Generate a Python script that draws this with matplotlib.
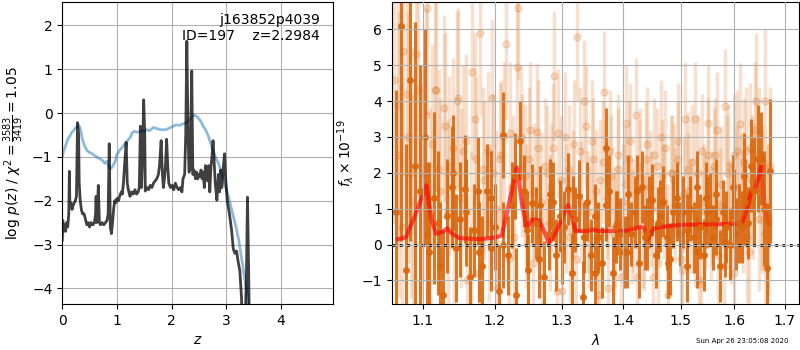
import matplotlib
matplotlib.use("Agg")
import matplotlib.pyplot as plt
from matplotlib.ticker import ScalarFormatter, NullFormatter, NullLocator

# p(z) panel
pz_z = [0.00, 0.01, 0.02, 0.04, 0.06, 0.08, 0.10, 0.12, 0.13, 0.14, 0.16, 0.18, 0.20, 0.22, 0.24, 0.26,
        0.28, 0.30, 0.31, 0.33, 0.35, 0.37, 0.40, 0.42, 0.45, 0.48, 0.50, 0.53, 0.56, 0.59, 0.61, 0.62,
        0.63, 0.65, 0.66, 0.68, 0.70, 0.73, 0.76, 0.79, 0.82, 0.84, 0.86, 0.88, 0.90, 0.92, 0.94, 0.96,
        0.98, 1.00, 1.03, 1.05, 1.08, 1.10, 1.12, 1.14, 1.17, 1.19, 1.21, 1.24, 1.27, 1.30, 1.33, 1.36,
        1.39, 1.41, 1.43, 1.45, 1.47, 1.49, 1.51, 1.52, 1.55, 1.58, 1.61, 1.64, 1.67, 1.70, 1.73, 1.76,
        1.78, 1.81, 1.83, 1.85, 1.87, 1.89, 1.91, 1.93, 1.95, 1.98, 2.01, 2.04, 2.07, 2.10, 2.13, 2.16,
        2.19, 2.21, 2.24, 2.26, 2.28, 2.30, 2.32, 2.34, 2.37, 2.39, 2.41, 2.44, 2.46, 2.48, 2.50, 2.52,
        2.54, 2.56, 2.58, 2.60, 2.62, 2.64, 2.66, 2.68, 2.70, 2.72, 2.74, 2.76, 2.78, 2.80, 2.83, 2.86,
        2.88, 2.90, 2.92, 2.95, 2.97, 2.99, 3.02, 3.06, 3.10, 3.13, 3.16, 3.19, 3.22, 3.25, 3.28, 3.30,
        3.34, 3.37, 3.39, 3.41, 3.43, 3.50, 3.60, 4.00]
pz_logp = [-2.9, -2.45, -2.7, -2.55, -2.7, -2.5, -2.6, -2.3, -1.33, -2.1, -2.05, -2.2, -2.1, -2.05, -2.0, -1.9,
           -0.22, -0.5, -1.6, -2.0, -2.2, -2.3, -2.3, -2.4, -2.55, -2.5, -2.6, -2.5, -2.55, -2.5, -2.3, -1.9,
           -2.5, -2.0, -1.65, -2.5, -2.55, -2.5, -2.55, -2.5, -2.45, -2.3, -0.7, -2.6, -2.75, -2.5, -2.2, -2.0,
           -2.05, -1.95, -2.0, -1.9, -1.8, -1.85, -1.6, -1.2, -0.67, -1.6, -1.75, -1.9, -1.8, -1.85, -1.75, -1.85,
           -1.8, -1.7, -0.3, -1.7, -1.0, 0.3, -0.5, -1.78, -1.7, -1.75, -1.65, -1.7, -1.6, -1.55, -1.5, -1.4,
           -1.2, -0.63, -1.3, -1.7, -1.5, -1.2, -0.6, -1.2, -1.6, -1.7, -1.65, -1.75, -1.6, -1.7, -1.75, -1.7,
           -1.8, -1.5, -1.4, -0.5, 1.64, -0.3, -1.35, -1.3, 0.96, -1.4, -1.3, -1.5, -1.35, -1.5, -1.4, -1.45,
           -1.3, -1.5, -1.35, -1.7, -1.2, -1.4, -1.55, -1.2, -1.8, -1.25, -1.0, -0.63, -1.1, -1.6, -1.99, -1.4,
           -1.8, -1.3, -1.7, -1.2, -0.93, -1.5, -2.0, -2.3, -2.68, -3.1, -3.2, -3.15, -3.4, -3.6, -4.2, -5.0,
           -5.0, -3.8, -1.92, -3.5, -5.5, -8.0, -9.0, -10.0]

chi_z = [0.00, 0.03, 0.06, 0.10, 0.13, 0.17, 0.22, 0.26, 0.30, 0.33, 0.37, 0.41, 0.45, 0.50, 0.55, 0.60,
         0.65, 0.70, 0.75, 0.78, 0.82, 0.86, 0.89, 0.93, 0.97, 1.00, 1.05, 1.10, 1.15, 1.20, 1.25, 1.28,
         1.32, 1.38, 1.45, 1.50, 1.55, 1.60, 1.67, 1.72, 1.80, 1.90, 2.00, 2.08, 2.15, 2.20, 2.27, 2.33,
         2.38, 2.43, 2.48, 2.53, 2.58, 2.63, 2.68, 2.73, 2.80, 2.86, 2.92, 2.98, 3.03, 3.08, 3.13, 3.18,
         3.23, 3.28, 3.33, 3.38, 3.43, 3.50]
chi_val = [-1.0, -0.85, -0.75, -0.6, -0.55, -0.45, -0.38, -0.32, -0.28, -0.35, -0.6, -0.75, -0.85, -0.9, -0.93, -0.98,
           -1.02, -1.05, -1.1, -1.15, -1.1, -1.25, -1.27, -1.2, -1.1, -0.95, -0.85, -0.78, -0.7, -0.62, -0.55, -0.45,
           -0.42, -0.44, -0.4, -0.42, -0.38, -0.4, -0.33, -0.35, -0.38, -0.38, -0.32, -0.27, -0.28, -0.25, -0.22, -0.15,
           -0.08, -0.05, -0.1, -0.18, -0.3, -0.4, -0.55, -0.75, -1.0, -1.15, -1.4, -1.65, -1.85, -2.1, -2.35, -2.6,
           -2.9, -3.3, -3.7, -4.1, -4.6, -5.5]

# spectrum panel: first orient (solid)
dark_wave = [1.066, 1.072, 1.078, 1.084, 1.090, 1.097, 1.103, 1.109, 1.115, 1.121,
             1.127, 1.133, 1.139, 1.145, 1.151, 1.158, 1.164, 1.170, 1.176, 1.182,
             1.188, 1.194, 1.200, 1.206, 1.212, 1.219, 1.225, 1.231, 1.237, 1.243,
             1.249, 1.255, 1.261, 1.267, 1.273, 1.280, 1.286, 1.292, 1.298, 1.304,
             1.310, 1.316, 1.322, 1.328, 1.334, 1.341, 1.347, 1.353, 1.359, 1.365,
             1.371, 1.377, 1.383, 1.389, 1.395, 1.402, 1.408, 1.414, 1.420, 1.426,
             1.432, 1.438, 1.444, 1.450, 1.456, 1.463, 1.469, 1.475, 1.481, 1.487,
             1.493, 1.499, 1.505, 1.511, 1.517, 1.524, 1.530, 1.536, 1.542, 1.548,
             1.554, 1.560, 1.566, 1.572, 1.578, 1.585, 1.591, 1.597, 1.603, 1.609,
             1.615, 1.621, 1.627, 1.633, 1.639, 1.646, 1.652, 1.658, 1.664, 1.670,
             1.106, 1.124, 1.141, 1.159, 1.177, 1.194, 1.212, 1.229, 1.247, 1.265,
             1.282, 1.300, 1.318, 1.335, 1.353, 1.371, 1.388, 1.406, 1.424, 1.441,
             1.459, 1.477, 1.494, 1.512, 1.530, 1.547, 1.565, 1.583, 1.600, 1.618]
dark_flux = [0.9, 6.1, -0.7, 4.6, 2.2, 1.5, 3.0, -0.2, 1.3, 0.6,
             -1.4, 0.8, 1.6, -0.1, 0.7, 1.55, -0.9, 0.4, 1.5, -0.6,
             1.5, -0.1, 0.5, -1.3, 3.05, -0.3, 1.1, -1.4, 2.9, 1.5,
             -0.7, 1.15, 0.6, 1.1, -0.9, 0.3, 1.2, -0.3, 0.8, 0.5,
             1.55, -0.8, 0.7, 1.35, -1.45, 1.2, -0.3, 0.8, 0.2, -0.5,
             2.7, 1.5, -0.8, 0.6, 0.3, -0.2, 1.4, 0.3, 0.9, -0.5,
             1.6, 0.2, 0.9, 1.25, -0.3, 0.8, 1.2, 0.2, -0.4, 0.9,
             1.3, 0.3, 0.9, -0.6, 1.0, 0.2, 1.6, 0.5, -0.3, 0.9,
             1.0, 0.2, 1.4, -0.6, 0.9, 0.5, 0.0, 1.6, 0.3, 0.6,
             0.5, 1.2, 0.6, 2.2, 1.5, 2.4, 2.4, 1.0, -0.65, 2.05,
             0.3, -0.6, 2.0, 0.9, -0.2, 1.3, 0.0, 1.9, 0.4, -0.4,
             1.4, -0.1, 0.9, 0.2, -0.8, 1.1, 0.5, -0.2, 1.5, 0.3,
             0.6, -0.5, 1.1, 0.4, -0.2, 1.3, 0.7, 0.1, 1.0, 1.9]
dark_err = [3.4, 6.0, 3.5, 4.5, 4.0, 3.5, 3.0, 2.5, 2.4, 2.0,
            1.8, 1.6, 1.7, 1.5, 1.6, 1.5, 1.4, 1.3, 1.5, 1.4,
            1.3, 1.2, 1.2, 1.3, 1.2, 1.1, 1.2, 1.3, 1.1, 1.0,
            1.0, 1.1, 1.0, 1.1, 1.0, 1.0, 1.1, 1.0, 1.0, 1.0,
            1.0, 1.1, 0.9, 1.0, 1.0, 1.1, 1.0, 0.9, 1.0, 1.0,
            1.1, 1.0, 1.0, 0.9, 1.0, 1.0, 1.1, 0.9, 1.0, 1.0,
            1.0, 0.9, 1.0, 1.0, 0.9, 1.0, 1.0, 0.9, 1.0, 1.0,
            1.0, 0.9, 1.0, 1.0, 0.9, 1.0, 1.0, 0.9, 1.0, 1.0,
            1.0, 0.9, 1.0, 1.0, 0.9, 1.0, 1.0, 0.9, 1.0, 1.1,
            1.0, 1.2, 1.0, 1.3, 1.5, 1.5, 1.3, 1.6, 1.8, 2.0,
            2.0, 1.8, 1.6, 1.5, 1.4, 1.3, 1.2, 1.2, 1.1, 1.1,
            1.0, 1.0, 1.0, 1.0, 1.0, 1.0, 1.0, 1.0, 1.0, 1.0,
            1.0, 1.0, 1.0, 1.0, 1.0, 1.0, 1.0, 1.0, 1.1, 1.2]

# second orient (faint)
light_wave = [1.063, 1.069, 1.075, 1.081, 1.087, 1.094, 1.100, 1.106, 1.112, 1.118,
              1.124, 1.130, 1.136, 1.142, 1.148, 1.155, 1.161, 1.167, 1.173, 1.179,
              1.185, 1.191, 1.197, 1.203, 1.209, 1.216, 1.222, 1.228, 1.234, 1.240,
              1.246, 1.252, 1.258, 1.264, 1.270, 1.277, 1.283, 1.289, 1.295, 1.301,
              1.307, 1.313, 1.319, 1.325, 1.331, 1.338, 1.344, 1.350, 1.356, 1.362,
              1.368, 1.374, 1.380, 1.386, 1.392, 1.399, 1.405, 1.411, 1.417, 1.423,
              1.429, 1.435, 1.441, 1.447, 1.453, 1.460, 1.466, 1.472, 1.478, 1.484,
              1.490, 1.496, 1.502, 1.508, 1.514, 1.521, 1.527, 1.533, 1.539, 1.545,
              1.551, 1.557, 1.563, 1.569, 1.575, 1.582, 1.588, 1.594, 1.600, 1.606,
              1.612, 1.618, 1.624, 1.630, 1.636, 1.643, 1.649, 1.655, 1.661, 1.667]
light_flux = [4.6, 2.5, 5.4, 3.0, 1.2, 4.3, 2.0, 6.6, 2.8, 4.3,
              1.5, 3.3, 2.2, 0.5, 4.1, 2.6, -1.0, 4.8, 2.4, 5.9,
              1.8, 0.6, 2.0, -1.2, 2.5, 5.6, 3.1, 0.2, 6.6, 2.2,
              0.8, 3.2, 1.5, 2.7, -0.9, 2.0, 1.6, 4.7, 3.1, -1.3,
              1.0, 0.2, 2.8, 5.8, 1.2, 3.3, 0.5, 2.4, -0.6, 1.8,
              4.25, -1.2, 1.9, 0.5, 2.5, 1.2, 3.4, 2.9, 0.8, -0.9,
              2.2, 0.3, 2.8, 1.0, 2.5, -0.5, 1.9, 2.7, -1.4, 2.0,
              1.1, 2.4, -0.7, 3.5, 1.5, 2.3, 0.4, -1.0, 2.6, 0.9,
              3.4, 1.0, 2.5, -0.3, 1.7, 3.85, 2.2, 0.6, -0.8, 2.6,
              1.4, 2.3, 0.2, 2.7, 1.5, 4.0, 0.7, 1.2, 0.3, 0.6]
light_err = [4.0, 4.0, 3.5, 3.5, 3.0, 3.0, 3.0, 3.0, 2.8, 2.8,
             2.6, 2.6, 2.5, 2.5, 2.5, 2.4, 2.4, 2.4, 2.3, 2.3,
             2.2, 2.2, 2.2, 2.1, 2.1, 2.1, 2.0, 2.0, 2.0, 2.0,
             2.0, 1.9, 1.9, 1.9, 1.9, 1.9, 1.8, 1.8, 1.8, 1.8,
             1.8, 1.8, 1.8, 1.8, 1.7, 1.7, 1.7, 1.7, 1.7, 1.7,
             1.7, 1.7, 1.7, 1.7, 1.7, 1.6, 1.6, 1.6, 1.6, 1.6,
             1.6, 1.6, 1.6, 1.6, 1.6, 1.6, 1.6, 1.6, 1.6, 1.6,
             1.6, 1.6, 1.6, 1.6, 1.6, 1.6, 1.6, 1.6, 1.6, 1.6,
             1.6, 1.6, 1.6, 1.6, 1.6, 1.6, 1.7, 1.7, 1.7, 1.7,
             1.7, 1.8, 1.8, 1.8, 1.9, 1.9, 2.0, 2.0, 2.1, 2.2]
light2_wave = [1.0675, 1.0735, 1.0795, 1.0855, 1.0915, 1.0985, 1.1045, 1.1105, 1.1165, 1.1225,
               1.1285, 1.1345, 1.1405, 1.1465, 1.1525, 1.1595, 1.1655, 1.1715, 1.1775, 1.1835,
               1.1895, 1.1955, 1.2015, 1.2075, 1.2135, 1.2205, 1.2265, 1.2325, 1.2385, 1.2445,
               1.2505, 1.2565, 1.2625, 1.2685, 1.2745, 1.2815, 1.2875, 1.2935, 1.2995, 1.3055,
               1.3115, 1.3175, 1.3235, 1.3295, 1.3355, 1.3425, 1.3485, 1.3545, 1.3605, 1.3665,
               1.3725, 1.3785, 1.3845, 1.3905, 1.3965, 1.4035, 1.4095, 1.4155, 1.4215, 1.4275,
               1.4335, 1.4395, 1.4455, 1.4515, 1.4575, 1.4645, 1.4705, 1.4765, 1.4825, 1.4885,
               1.4945, 1.5005, 1.5065, 1.5125, 1.5185, 1.5255, 1.5315, 1.5375, 1.5435, 1.5495,
               1.5555, 1.5615, 1.5675, 1.5735, 1.5795, 1.5865, 1.5925, 1.5985, 1.6045, 1.6105,
               1.6165, 1.6225, 1.6285, 1.6345, 1.6405, 1.6475, 1.6535, 1.6595, 1.6655, 1.6700]
light2_flux = [3.9, 0.5, 4.2, 2.0, 5.3, 1.5, 3.6, 0.8, 4.3, 2.1,
               3.8, 0.9, 2.7, 4.0, 1.3, 2.9, 0.2, 3.5, -0.8, 2.1,
               2.6, 4.1, 1.0, 2.4, 3.0, -0.4, 1.6, 4.95, 3.0, 1.9,
               2.4, -0.5, 3.15, 1.2, 2.2, 0.6, 2.7, -1.3, 1.8, 3.0,
               2.1, 1.4, -0.4, 2.6, 4.0, 0.9, 2.9, 1.5, -1.4, 2.3,
               1.3, 2.6, 0.3, 2.1, -0.9, 1.7, 2.4, 0.5, 3.6, 1.9,
               0.4, 2.4, 1.6, -0.9, 2.2, 3.0, 1.2, 0.1, 2.0, 1.8,
               2.9, -0.4, 1.4, 2.1, 0.8, 3.5, 2.0, -1.1, 1.2, 2.5,
               0.6, 2.2, 3.2, 1.1, -0.6, 2.0, 0.7, 2.5, 1.6, 3.35,
               0.9, 2.6, -0.2, 1.8, 3.2, 2.5, 1.3, 4.0, 0.7, 2.2]

model_wave = [1.068, 1.078, 1.090, 1.097, 1.105, 1.112, 1.118, 1.126, 1.133, 1.140, 1.150,
              1.180, 1.200, 1.210, 1.220, 1.232, 1.240, 1.247, 1.255, 1.265, 1.270, 1.280,
              1.290, 1.300, 1.310, 1.316, 1.322, 1.340, 1.350, 1.360, 1.400, 1.410, 1.430,
              1.436, 1.442, 1.452, 1.470, 1.500, 1.600, 1.615, 1.625, 1.632, 1.640, 1.652]
model_flux = [0.15, 0.2, 0.8, 1.2, 1.65, 0.7, 0.3, 0.35, 0.45, 0.3, 0.18,
              0.15, 0.2, 0.25, 1.1, 2.15, 1.1, 0.45, 0.7, 0.68, 0.5, 0.05,
              0.3, 0.7, 1.1, 0.8, 0.38, 0.38, 0.42, 0.38, 0.38, 0.4, 0.5,
              0.45, 0.15, 0.45, 0.5, 0.55, 0.58, 0.6, 1.0, 1.45, 1.5, 2.15]
tail_wave = [1.652, 1.660, 1.667]
tail_flux = [2.15, 1.0, 0.6]

orange = "#d9680f"

fig = plt.figure(figsize=(8, 3.5), dpi=100)
ax1 = fig.add_axes([0.0778, 0.131, 0.3388, 0.863])
ax2 = fig.add_axes([0.4896, 0.131, 0.5094, 0.863])

ax1.plot(chi_z, chi_val, color="#1f77b4", alpha=0.5, lw=2)
ax1.plot(pz_z, pz_logp, color="k", alpha=0.75, lw=2)
ax1.set_xlim(0, 4.96)
ax1.set_ylim(-4.36, 2.53)
ax1.set_xticks([0, 1, 2, 3, 4])
ax1.grid()
ax1.set_xlabel("$z$")
ax1.set_ylabel(r"log $p(z)$ / $\chi^2=\frac{3583}{3419}=1.05$")
ax1.text(0.95, 0.965, "j163852p4039\nID=197    z=2.2984", ha="right", va="top",
         transform=ax1.transAxes)

ax2.errorbar(light_wave, light_flux, yerr=light_err, color=orange, alpha=0.2,
             marker="o", ms=5, linestyle="none", elinewidth=2.5)
ax2.errorbar(light2_wave, light2_flux, yerr=light_err, color=orange, alpha=0.2,
             marker="o", ms=5, linestyle="none", elinewidth=2.5)
ax2.errorbar(dark_wave, dark_flux, yerr=dark_err, color=orange, alpha=0.9,
             marker="o", ms=4, linestyle="none", elinewidth=2.2)
ax2.plot(model_wave, model_flux, color="red", alpha=0.65, lw=3)
ax2.plot(tail_wave, tail_flux, color="red", alpha=0.25, lw=3)
ax2.axhline(0, color="k", linestyle=":", lw=2)
ax2.set_xscale("log")
ax2.set_xlim(1.06, 1.7297)
ax2.set_ylim(-1.66, 6.76)
ax2.set_xticks([1.1, 1.2, 1.3, 1.4, 1.5, 1.6, 1.7])
ax2.xaxis.set_major_formatter(ScalarFormatter())
ax2.xaxis.set_minor_locator(NullLocator())
ax2.xaxis.set_minor_formatter(NullFormatter())
ax2.set_axisbelow(False)
ax2.grid()
ax2.set_xlabel(r"$\lambda$")
ax2.set_ylabel(r"$f_\lambda \times 10^{-19}$")

fig.text(0.985, 0.02, "Sun Apr 26 23:05:08 2020", ha="right", fontsize=5)

fig.savefig("out.png", dpi=100)
